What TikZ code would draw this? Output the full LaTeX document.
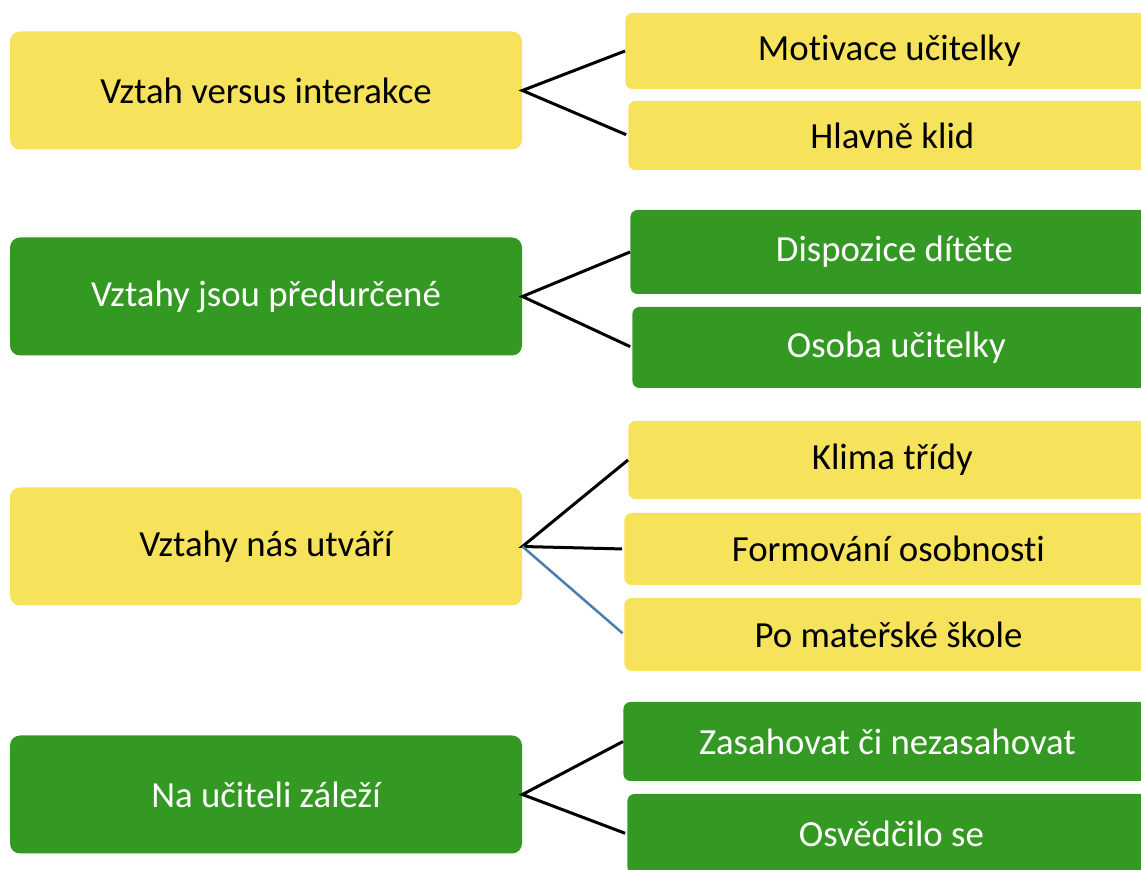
\documentclass[tikz,border=0pt]{standalone}
\usepackage{fontspec}
\setmainfont{Carlito}[Ligatures=NoCommon]
\usetikzlibrary{positioning}
\definecolor{zluta}{HTML}{F6E35B}
\definecolor{zelena}{HTML}{339922}
\definecolor{modra}{HTML}{4A7EB0}

\begin{document}
\begin{tikzpicture}[x=0.5pt,y=-0.5pt,
  lbox/.style={rounded corners=5pt, minimum width=256pt, minimum height=59pt,
    inner sep=0pt, font=\fontsize{18.4}{22}\selectfont},
  rbox/.style={rounded corners=3.5pt, anchor=west, minimum width=264pt,
    inner sep=0pt, font=\fontsize{18.4}{22}\selectfont},
  zl/.style={fill=zluta, text=black},
  zn/.style={fill=zelena, text=white},
  spoj/.style={line width=1.5pt, shorten >=1pt}]
% Rozmery obrazku (pravé boxy přesahují okraj)
\useasboundingbox (0,0) rectangle (1141,870);
\clip (0,0) rectangle (1141,870);

% Levé boxy
\node[lbox, zl] (vztah)   at (266,90.5)  {Vztah versus interakce};
\node[lbox, zn] (predur)  at (266,296.5) {Vztahy jsou předurčené};
\node[lbox, zl] (utvari)  at (266,546.5) {Vztahy nás utváří};
\node[lbox, zn] (ucitel)  at (266,794.5) {Na učiteli záleží};

% Pravé boxy
\node[rbox, zl, minimum height=38pt]   (motiv)   at (625,51)    {Motivace učitelky};
\node[rbox, zl, minimum height=34.5pt] (klid)    at (628,135.5) {Hlavně klid};
\node[rbox, zn, minimum height=42pt]   (dispoz)  at (630,252)   {Dispozice dítěte};
\node[rbox, zn, minimum height=40.5pt] (osoba)   at (632,347.5) {Osoba učitelky};
\node[rbox, zl, minimum height=39pt]   (klima)   at (628,460)   {Klima třídy};
\node[rbox, zl, minimum height=36pt]   (formov)  at (624,549)   {Formování osobnosti};
\node[rbox, zl, minimum height=36.5pt] (matersk) at (624,634.5) {Po mateřské škole};
\node[rbox, zn, minimum height=39.5pt] (zasah)   at (623,741.5) {Zasahovat či nezasahovat};
\node[rbox, zn, minimum height=40pt]   (osved)   at (627,834)   {Osvědčilo se};

% Spojnice
\draw[spoj] (motiv.west) -- (vztah.east) -- (klid.west);
\draw[spoj] (dispoz.west) -- (predur.east) -- (osoba.west);
\draw[spoj] (klima.west) -- (utvari.east) -- (formov.west);
\draw[spoj, modra, line width=1.25pt] (utvari.east) -- (matersk.west);
\draw[spoj] (zasah.west) -- (ucitel.east) -- (osved.west);
\end{tikzpicture}
\end{document}
